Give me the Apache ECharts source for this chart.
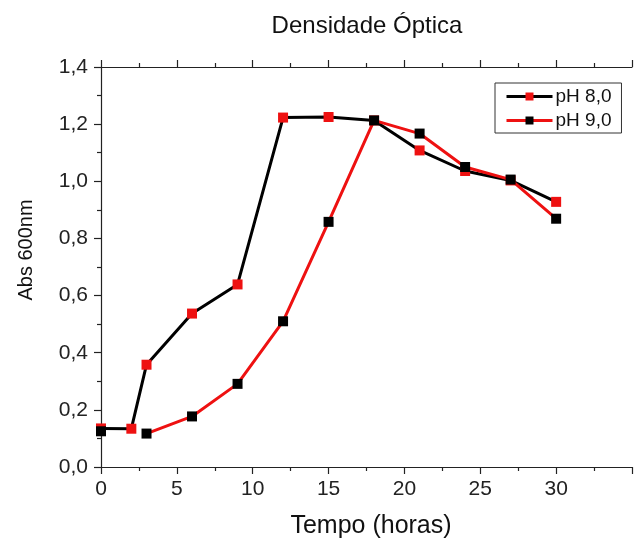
<!DOCTYPE html>
<html>
<head>
<meta charset="utf-8">
<script src="https://cdn.jsdelivr.net/npm/echarts@6/dist/echarts.min.js"></script>
<style>
html,body{margin:0;padding:0;background:#fff;}
#chart{width:635px;height:538px;}
</style>
</head>
<body>
<div id="chart"></div>
<script>
var titleText = 'Densidade Óptica';
var xName = 'Tempo (horas)';
var yName = 'Abs 600nm';
var seriesNames = ['pH 8,0', 'pH 9,0'];
var times = [0, 2, 3, 6, 9, 12, 15, 18, 21, 24, 27, 30];
var ph8 = [0.135, 0.134, 0.358, 0.537, 0.639, 1.223, 1.225, 1.213, 1.108, 1.036, 1.003, 0.928];
var ph9 = [0.125, null, 0.117, 0.177, 0.291, 0.510, 0.858, 1.213, 1.167, 1.050, 1.006, 0.869];
var xTicks = [0, 5, 10, 15, 20, 25, 30];
var yTicks = [0.0, 0.2, 0.4, 0.6, 0.8, 1.0, 1.2, 1.4];

var RED = '#ee1111';
var BLACK = '#000000';
var FONT = '"Liberation Sans", Arial, sans-serif';

function pairs(vals) {
  return times.map(function (t, i) { return [t, vals[i] === null ? '-' : vals[i]]; });
}

var chart = echarts.init(document.getElementById('chart'), null, {renderer: 'canvas'});

var axisLineStyle = {color: '#222', width: 1.2};

var option = {
  backgroundColor: '#ffffff',
  animation: false,
  legend: {
    orient: 'vertical',
    left: 495,
    top: 83,
    padding: [4, 10, 3, 10],
    itemGap: 5,
    itemWidth: 46,
    itemHeight: 10,
    borderColor: '#333',
    borderWidth: 1,
    lineStyle: {width: 3},
    textStyle: {fontFamily: FONT, fontSize: 19, color: '#111', padding: [0, 0, 0, -2]},
    data: seriesNames
  },
  grid: {left: 101, top: 67, width: 35 * 16.54, height: 400},
  xAxis: [{
    type: 'value',
    position: 'bottom',
    min: 0, max: 35, interval: 5,
    axisLine: {show: true, onZero: false, lineStyle: axisLineStyle},
    axisTick: {show: true, inside: false, length: 7, lineStyle: axisLineStyle},
    minorTick: {show: true, splitNumber: 2, length: 4, lineStyle: axisLineStyle},
    splitLine: {show: false},
    axisLabel: {
      fontFamily: FONT, fontSize: 21, color: '#222', margin: 12,
      formatter: function (v) { return xTicks.indexOf(v) >= 0 ? String(v) : ''; }
    }
  }, {
    type: 'value',
    position: 'top',
    min: 0, max: 35, interval: 5,
    axisLine: {show: true, onZero: false, lineStyle: axisLineStyle},
    axisTick: {show: true, inside: false, length: 7, lineStyle: axisLineStyle},
    minorTick: {show: true, splitNumber: 2, length: 4, lineStyle: axisLineStyle},
    splitLine: {show: false},
    axisLabel: {show: false}
  }],
  yAxis: {
    type: 'value',
    min: 0, max: 1.4, interval: 0.2,
    axisLine: {show: true, onZero: false, lineStyle: axisLineStyle},
    axisTick: {show: true, inside: false, length: 7, lineStyle: axisLineStyle},
    minorTick: {show: true, splitNumber: 2, length: 4, lineStyle: axisLineStyle},
    splitLine: {show: false},
    axisLabel: {
      fontFamily: FONT, fontSize: 21, color: '#222', margin: 13,
      formatter: function (v) {
        var r = Math.round(v * 10) / 10;
        return yTicks.indexOf(r) >= 0 ? r.toFixed(1).replace('.', ',') : '';
      }
    }
  },
  graphic: [{
    type: 'text',
    x: 367, y: 26,
    style: {text: titleText, font: '24px ' + FONT, fill: '#111', align: 'center', verticalAlign: 'middle'}
  }, {
    type: 'text',
    x: 371, y: 526,
    style: {text: xName, font: '25px ' + FONT, fill: '#111', align: 'center', verticalAlign: 'middle'}
  }, {
    type: 'text',
    x: 26, y: 250,
    rotation: Math.PI / 2,
    style: {text: yName, font: '20px ' + FONT, fill: '#111', align: 'center', verticalAlign: 'middle'}
  }],
  series: [{
    name: seriesNames[0],
    type: 'line',
    data: pairs(ph8),
    symbol: 'rect',
    symbolSize: 10,
    lineStyle: {color: BLACK, width: 3},
    itemStyle: {color: RED, borderWidth: 0},
    color: RED,
    z: 2
  }, {
    name: seriesNames[1],
    type: 'line',
    data: pairs(ph9),
    connectNulls: false,
    symbol: 'rect',
    symbolSize: 10,
    lineStyle: {color: RED, width: 3},
    itemStyle: {color: BLACK, borderWidth: 0},
    color: BLACK,
    z: 3
  }]
};
chart.setOption(option);
</script>
</body>
</html>
